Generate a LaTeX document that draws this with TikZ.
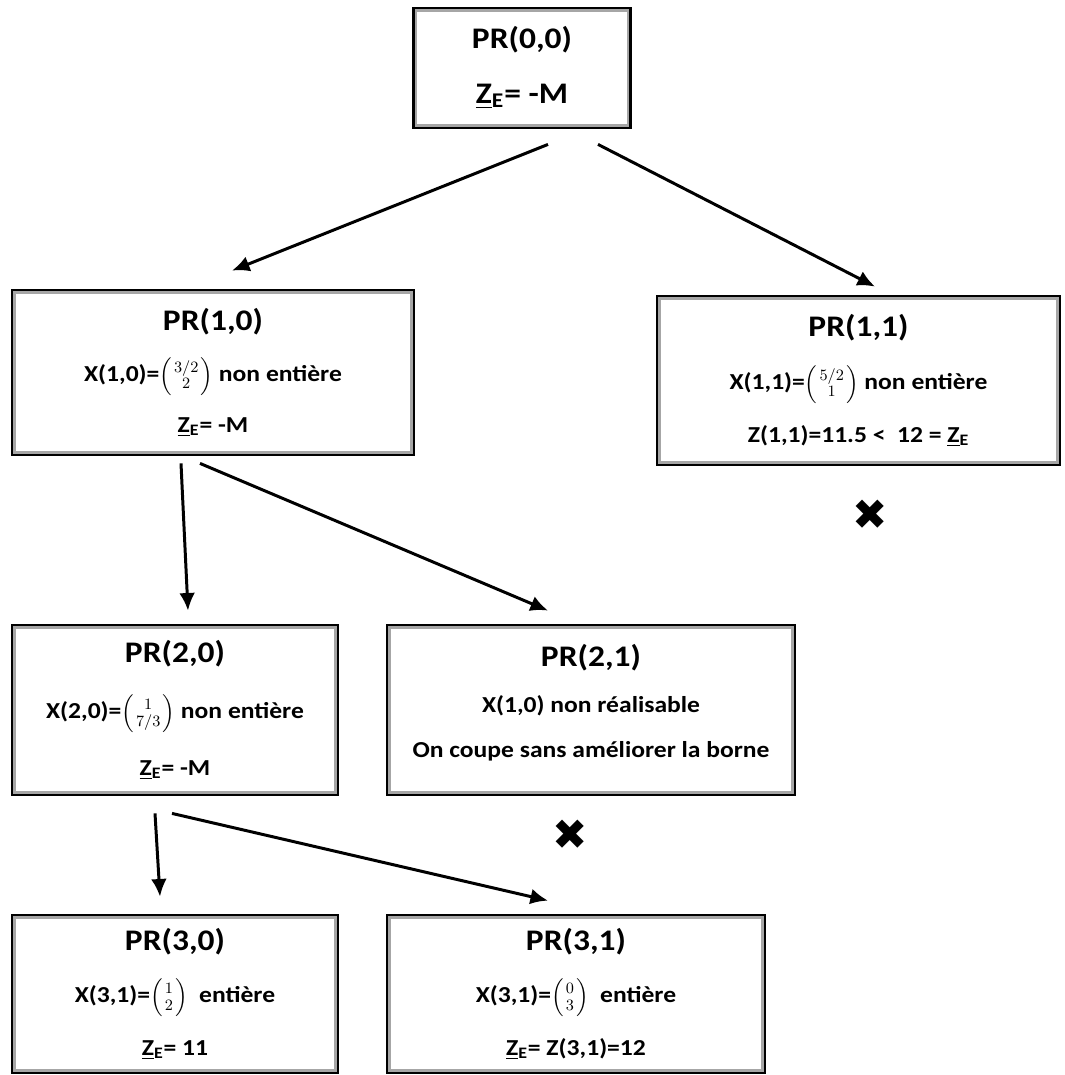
\documentclass[tikz,border=0pt]{standalone}
\usepackage{amsmath}
\usepackage{fontspec}
\setmainfont{Carlito}[FakeStretch=1.12]
\newfontfamily\symfont{DejaVu Sans}
\usetikzlibrary{calc,arrows.meta}

\tikzset{
  pbox/.style={draw=black, line width=1.6pt, fill=white, align=center,
    font=\bfseries\fontsize{13}{#1}\selectfont,
    path picture={\draw[black!35, line width=4pt] (path picture bounding box.south west) rectangle (path picture bounding box.north east);}},
  pbox/.default=29pt,
  cut/.style={font=\symfont\fontsize{24}{24}\selectfont, inner sep=0pt},
  branch/.style={-{Latex[length=10pt,width=9pt]}, line width=1.7pt}
}
\newcommand{\ttl}[1]{{\fontsize{17}{17}\selectfont #1}}
\newcommand{\ZE}{\underline{Z}\textsubscript{E}}
\newcommand{\vect}[2]{$\Bigl(\genfrac{}{}{0pt}{1}{#1}{#2}\Bigr)$}

\begin{document}
\begin{tikzpicture}
  \useasboundingbox (0,0) rectangle (21.3,-21.5);

  % noeuds de l'arbre
  \node[pbox=31pt, minimum width=4.34cm, minimum height=2.4cm] (n00) at (10.44,-1.36)
    {\ttl{PR(0,0)}\\ \ttl{\ZE= -M}};
  \node[pbox=29pt, minimum width=8.04cm, minimum height=3.3cm] (n10) at (4.26,-7.45)
    {\ttl{PR(1,0)}\\ X(1,0)=\vect{3/2}{2} non entière\\ \ZE= -M};
  \node[pbox=30pt, minimum width=8.06cm, minimum height=3.38cm] (n11) at (17.17,-7.61)
    {\ttl{PR(1,1)}\\ X(1,1)=\vect{5/2}{1} non entière\\ Z(1,1)=11.5 <\ \ 12 = \ZE};
  \node[pbox=32pt, minimum width=6.52cm, minimum height=3.4cm] (n20) at (3.5,-14.2)
    {\ttl{PR(2,0)}\\ X(2,0)=\vect{1}{7/3} non entière\\ \ZE= -M};
  \node[pbox=26pt, minimum width=8.16cm, minimum height=3.4cm, text depth=10pt] (n21) at (11.82,-14.2)
    {\ttl{PR(2,1)}\\ X(1,0) non réalisable\\ On coupe sans améliorer la borne};
  \node[pbox=30pt, minimum width=6.52cm, minimum height=3.16cm] (n30) at (3.5,-19.88)
    {\ttl{PR(3,0)}\\ X(3,1)=\vect{1}{2}\ \ entière\\ \ZE= 11};
  \node[pbox=30pt, minimum width=7.56cm, minimum height=3.16cm] (n31) at (11.52,-19.88)
    {\ttl{PR(3,1)}\\ X(3,1)=\vect{0}{3}\ \ entière\\ \ZE= Z(3,1)=12};

  % noeuds coupes
  \node[cut] (c11) at (17.4,-10.3) {✖};
  \node[cut] (c21) at (11.4,-16.7) {✖};

  % branches
  \draw[branch] ([shift={(0.52,-0.3)}]n00.south) -- ([shift={(0.38,0.36)}]n10.north);
  \draw[branch] ([shift={(1.52,-0.3)}]n00.south) -- ([shift={(0.33,0.16)}]n11.north);
  \draw[branch] ([shift={(-0.64,-0.14)}]n10.south) -- ([shift={(0.26,0.26)}]n20.north);
  \draw[branch] ([shift={(-0.26,-0.14)}]n10.south) -- ([shift={(-0.86,0.26)}]n21.north);
  \draw[branch] ([shift={(-0.4,-0.34)}]n20.south) -- ([shift={(-0.3,0.34)}]n30.north);
  \draw[branch] ([shift={(-0.06,-0.34)}]n20.south) -- ([shift={(-0.56,0.26)}]n31.north);
\end{tikzpicture}
\end{document}
